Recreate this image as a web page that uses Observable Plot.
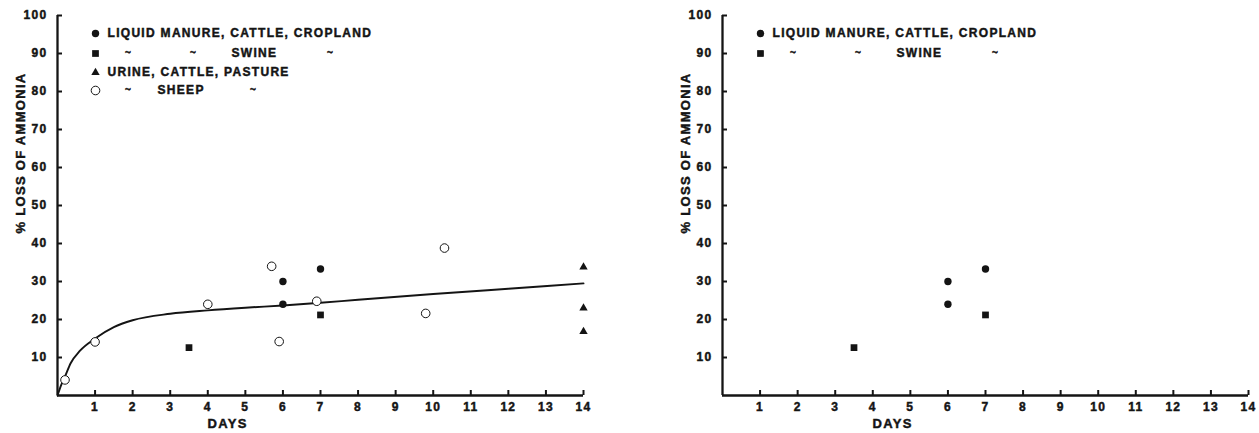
<!DOCTYPE html>
<html><head><meta charset="utf-8">
<script src="https://cdn.jsdelivr.net/npm/d3@7"></script>
<script src="https://cdn.jsdelivr.net/npm/@observablehq/plot@0.6"></script>
<style>
body{margin:0;background:#fff;}
#wrap{display:flex;width:1259px;height:433px;}
svg text{stroke:#141414;stroke-width:0.45px;}
</style></head><body><div id="wrap"></div>
<script>
// ---- data ----
const xTicks = [1,2,3,4,5,6,7,8,9,10,11,12,13,14];
const yTicks = [10,20,30,40,50,60,70,80,90,100];
const cattleDays = [6, 6, 7];
const cattleLoss = [30, 24, 33.3];
const swineDays = [3.5, 7];
const swineLoss = [12.6, 21.2];
const urineDays = [14, 14, 14];
const urineLoss = [33.8, 23, 16.8];
const sheepDays = [0.2, 1, 4, 5.7, 5.9, 6.9, 9.8, 10.3];
const sheepLoss = [4.1, 14.1, 24, 34, 14.2, 24.8, 21.6, 38.8];
const curveDays = [0, 0.1, 0.2, 0.35, 0.6, 1, 1.5, 2, 3, 4, 5, 6, 7, 8, 10, 12, 14];
const curveLoss = [0, 2.8, 5, 8.5, 11.8, 15, 18, 19.8, 21.5, 22.4, 23.1, 23.7, 24.4, 25.2, 26.7, 28.1, 29.5];
const legendLeft = ["LIQUID MANURE, CATTLE, CROPLAND", "~ ~ SWINE ~", "URINE, CATTLE, PASTURE", "~ SHEEP ~"];
const legendRight = ["LIQUID MANURE, CATTLE, CROPLAND", "~ ~ SWINE ~"];
const xLabel = "DAYS";
const yLabel = "% LOSS OF AMMONIA";

// ---- layout / style ----
const ink = "#141414";
const H = 433, MT = 15, MB = 38;
const plotW = 526, plotH = H - MT - MB;
const tickLen = 5;
const zip = (xs, ys) => xs.map((x, i) => ({x, y: ys[i]}));
const symbolStyle = {
  circle: {symbol: "circle", r: 3.7, fill: ink, stroke: "none"},
  square: {symbol: "square", r: 3.8, fill: ink, stroke: "none"},
  triangle: {symbol: "triangle", r: 3.1, fill: ink, stroke: "none"},
  open: {symbol: "circle", r: 4.3, fill: "white", stroke: ink, strokeWidth: 1}
};
// segment offsets (px from y axis) and anchors for each legend row
const segLayout = {
  "LIQUID MANURE, CATTLE, CROPLAND": [[50, "start"]],
  "~ ~ SWINE ~": [[71, "middle"], [136, "middle"], [174, "start"], [273, "middle"]],
  "URINE, CATTLE, PASTURE": [[50, "start"]],
  "~ SHEEP ~": [[71, "middle"], [100, "start"], [196, "middle"]]
};
const rowDy = [18, 38, 57, 75];

function chart({width, marginLeft, series, curve, legend, legendSymbols}) {
  const marks = [];
  marks.push(Plot.tickY(yTicks, {y: d => d, insetRight: plotW - tickLen, stroke: ink, strokeWidth: 2}));
  marks.push(Plot.tickX(xTicks, {x: d => d, insetTop: plotH - tickLen, stroke: ink, strokeWidth: 2}));
  marks.push(Plot.ruleX([0], {stroke: ink, strokeWidth: 2.3}));
  marks.push(Plot.ruleY([0], {stroke: ink, strokeWidth: 2.3}));
  marks.push(Plot.axisY({ticks: yTicks, tickSize: 0, tickPadding: 10, fontSize: 12, fontWeight: "bold", fill: ink, label: null}));
  marks.push(Plot.axisX({ticks: xTicks, tickSize: 0, tickPadding: 7, fontSize: 12, fontWeight: "bold", fill: ink, label: null}));
  marks.push(Plot.text([yLabel], {text: d => d, frameAnchor: "left", rotate: -90, dx: -37, dy: 28, fontSize: 13, fontWeight: "bold", fill: ink}));
  marks.push(Plot.text([xLabel], {text: d => d, frameAnchor: "bottom-left", dx: 150, dy: 32, fontSize: 13, fontWeight: "bold", fill: ink}));
  if (curve) marks.push(Plot.line(curve, {x: "x", y: "y", curve: "monotone-x", stroke: ink, strokeWidth: 1.9}));
  for (const s of series) marks.push(Plot.dot(s.data, {x: "x", y: "y", ...symbolStyle[s.kind]}));
  legend.forEach((label, i) => {
    marks.push(Plot.dot([label], {frameAnchor: "top-left", dx: 38, dy: rowDy[i], ...symbolStyle[legendSymbols[i]]}));
    const parts = label.includes("~") ? label.split(" ") : [label];
    const lay = segLayout[label];
    parts.forEach((p, j) => {
      const tilde = p === "~";
      marks.push(Plot.text([p], {text: d => d, frameAnchor: "top-left", dx: lay[j][0], dy: rowDy[i] + (tilde ? -1 : 0),
        textAnchor: lay[j][1], lineAnchor: "middle", fontSize: tilde ? 10 : 12, fontWeight: "bold", fill: ink}));
    });
  });
  return Plot.plot({
    width, height: H,
    marginLeft, marginRight: width - marginLeft - plotW, marginTop: MT, marginBottom: MB,
    x: {domain: [0, 14], axis: null},
    y: {domain: [0, 100], axis: null},
    style: {fontFamily: "'Liberation Sans', Arial, sans-serif", letterSpacing: "1.3px", color: ink, background: "white", overflow: "visible"},
    marks
  });
}

const wrap = document.getElementById("wrap");
wrap.append(chart({
  width: 630, marginLeft: 57,
  curve: zip(curveDays, curveLoss),
  series: [
    {kind: "square", data: zip(swineDays, swineLoss)},
    {kind: "triangle", data: zip(urineDays, urineLoss)},
    {kind: "open", data: zip(sheepDays, sheepLoss)},
    {kind: "circle", data: zip(cattleDays, cattleLoss)}
  ],
  legend: legendLeft, legendSymbols: ["circle", "square", "triangle", "open"]
}));
wrap.append(chart({
  width: 629, marginLeft: 92,
  curve: null,
  series: [
    {kind: "square", data: zip(swineDays, swineLoss)},
    {kind: "circle", data: zip(cattleDays, cattleLoss)}
  ],
  legend: legendRight, legendSymbols: ["circle", "square"]
}));
</script></body></html>
